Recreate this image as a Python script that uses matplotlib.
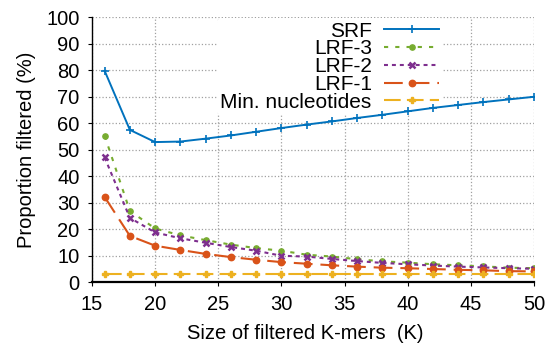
import numpy as np
import matplotlib
matplotlib.use("Agg")
import matplotlib.pyplot as plt

plt.rcParams['font.family'] = ['Liberation Sans', 'DejaVu Sans']

# K-mer sizes
k_sizes = [16, 18, 20, 22, 24, 26, 28, 30, 32, 34, 36, 38, 40, 42, 44, 46, 48, 50]

srf = [79.7, 57.4, 52.8, 53.0, 54.1, 55.3, 56.7, 58.1, 59.4, 60.6,
       61.9, 63.1, 64.4, 65.7, 66.8, 67.9, 68.9, 69.9]
lrf3 = [55.2, 26.8, 20.2, 17.6, 15.8, 14.1, 12.8, 11.8, 10.3, 9.6,
        8.6, 7.8, 7.3, 6.7, 6.3, 5.9, 5.4, 5.2]
lrf2 = [47.0, 24.2, 18.7, 16.5, 14.8, 13.2, 11.8, 9.9, 9.6, 8.7,
        7.9, 7.2, 6.7, 6.2, 5.8, 5.5, 5.2, 5.0]
lrf1 = [32.1, 17.4, 13.7, 12.1, 10.6, 9.4, 8.4, 7.5, 6.9, 6.3,
        5.8, 5.4, 5.2, 4.9, 4.6, 4.4, 4.1, 4.0]
min_nuc = [3.0] * len(k_sizes)

fig = plt.figure(figsize=(5.46, 3.45), dpi=100)
ax = fig.add_axes([0.1685, 0.1826, 0.8095, 0.7681])

ax.plot(k_sizes, srf, color='#0072bd', lw=1.4, marker='+', ms=6, mew=1.2, label='SRF', zorder=5)
ax.plot(k_sizes, lrf3, color='#77ac30', lw=1.5, dashes=(2, 3.4), marker='o', ms=3.8, label='LRF-3', zorder=4)
ax.plot(k_sizes, lrf2, color='#7e2f8e', lw=1.5, dashes=(1.9, 1.9), marker='x', ms=5, mew=1.8, label='LRF-2', zorder=4)
ax.plot(k_sizes, lrf1, color='#d95319', lw=1.5, dashes=(9, 3.8), marker='o', ms=4.6, label='LRF-1', zorder=4)
ax.plot(k_sizes, min_nuc, color='#edb120', lw=1.5, dashes=(8, 3), marker='P', ms=4.2, label='Min. nucleotides', zorder=4)

ax.set_xlim(15, 50)
ax.set_ylim(0, 100)
ax.set_xticks(np.arange(15, 51, 5))
ax.set_yticks(np.arange(0, 101, 10))
ax.grid(True, linestyle=':', color='#a0a0a0', lw=0.9)
ax.set_axisbelow(True)
for s in ['top', 'right']:
    ax.spines[s].set_visible(False)
ax.spines['left'].set_linewidth(1.0)
ax.spines['bottom'].set_linewidth(1.6)
ax.tick_params(labelsize=14.5, direction='out', length=3, pad=6)

ax.set_xlabel('Size of filtered K-mers  (K)', fontsize=14.5)
ax.xaxis.set_label_coords(0.482, -0.16)
ax.set_ylabel('Proportion filtered (%)', fontsize=14.5, labelpad=7)

leg = ax.legend(loc='upper right', bbox_to_anchor=(453 / 546, 1 - 8 / 345), bbox_transform=fig.transFigure,
                markerfirst=False, fontsize=15, handlelength=2.65, handletextpad=0.6,
                labelspacing=-0.06, borderpad=0.15, numpoints=1,
                frameon=True, facecolor='white', edgecolor='none', framealpha=1.0)
leg.set_zorder(1)
for t in leg.get_texts():
    t.set_ha('right')

fig.savefig('out.png', dpi=100)
